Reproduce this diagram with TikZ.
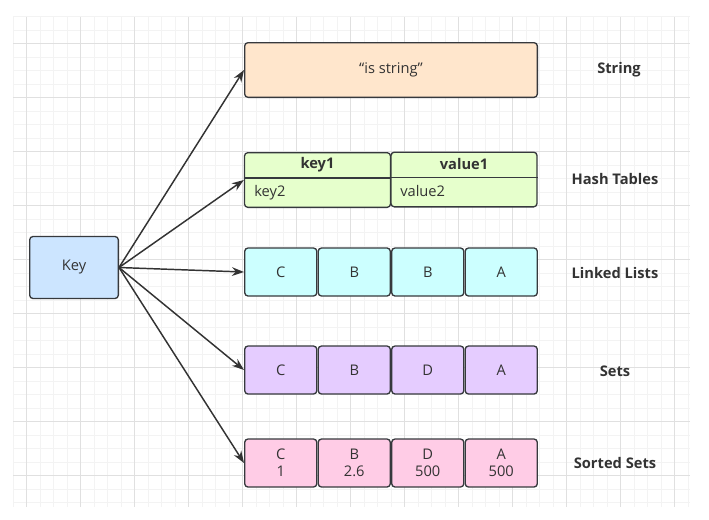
\documentclass[tikz,border=0pt]{standalone}
\usepackage{fontspec}
\setmainfont{Open Sans}
\usetikzlibrary{arrows.meta,calc,positioning}
\definecolor{edge}{HTML}{36393D}
\definecolor{txt}{HTML}{333333}
\definecolor{keyc}{HTML}{CCE5FF}
\definecolor{strc}{HTML}{FFE6CC}
\definecolor{hashc}{HTML}{E6FFCC}
\definecolor{listc}{HTML}{CCFFFF}
\definecolor{setc}{HTML}{E5CCFF}
\definecolor{zsetc}{HTML}{FFCCE6}
\definecolor{gridminor}{HTML}{F3F3F3}
\definecolor{gridmajor}{HTML}{E0E0E0}
\newcommand{\boxfont}{\fontsize{11}{12.75}\selectfont}

\begin{document}
\begin{tikzpicture}[x=0.75pt,y=-0.75pt,
  box/.style={draw=edge,line width=1pt,rounded corners=2.5pt,text=txt,font=\boxfont,inner sep=0pt},
  cell/.style={box,minimum width=54.1pt,minimum height=36pt,align=center},
  word/.style={text=txt,font=\boxfont,inner sep=0pt},
  tag/.style={word,font=\boxfont\bfseries},
  link/.style={draw=txt,line width=1.1pt,-{Stealth[length=9pt,width=6.5pt]}}]
\useasboundingbox (0,0) rectangle (709,519);
% background grid
\foreach \k in {0,...,50}
  \draw[gridminor,line width=0.75pt] (13.2+13.5*\k,16.5) -- (13.2+13.5*\k,507);
\foreach \k in {0,...,36}
  \draw[gridminor,line width=0.75pt] (13,16.5+13.5*\k) -- (690,16.5+13.5*\k);
\foreach \k in {0,...,12}
  \draw[gridmajor,line width=0.75pt] (26.7+54*\k,16.5) -- (26.7+54*\k,507);
\foreach \k in {0,...,8}
  \draw[gridmajor,line width=0.75pt] (13,43.5+54*\k) -- (690,43.5+54*\k);

% key
\node[box,fill=keyc,minimum width=66.5pt,minimum height=46.5pt] (key) at (74,267.5) {Key};

% string
\node[box,fill=strc,minimum width=219.5pt,minimum height=41pt] (str) at (391,70) {“is string”};

% hash table
\node[box,fill=hashc,minimum width=109.5pt,minimum height=41pt] (hk) at (317.5,180) {};
\node[box,fill=hashc,minimum width=109.5pt,minimum height=41pt] (hv) at (464,179.5) {};
\draw[edge,line width=1pt] ($(hk.west)+(0,-2)$) -- ($(hk.east)+(0,-2)$);
\draw[edge,line width=1pt] ($(hv.west)+(0,-2)$) -- ($(hv.east)+(0,-2)$);
\node[tag] (hk1) at (317.5,165) {key1};
\node[tag] (hv1) at (464,164) {value1};
\node[word,anchor=west] (hk2) at (254,193) {key2};
\node[word,anchor=west] (hv2) at (400,191) {value2};

% linked list
\foreach \t [count=\i] in {C,B,B,A}
  \node[cell,fill=listc] (ll\i) at (207.25+73.5*\i,272) {\t};

% set
\foreach \t [count=\i] in {C,B,D,A}
  \node[cell,fill=setc] (st\i) at (207.25+73.5*\i,370) {\t};

% sorted set
\foreach \t/\v [count=\i] in {C/1,B/2.6,D/500,A/500}
  \node[cell,fill=zsetc] (zs\i) at (207.25+73.5*\i,463) {\t\\\v};

% arrows
\draw[link] (key.east) -- (str.west);
\draw[link] (key.east) -- (hk.west);
\draw[link] (key.east) -- (ll1.west);
\draw[link] (key.east) -- (st1.west);
\draw[link] (key.east) -- (zs1.west);

% labels
\node[tag] (lstr) at (619,70) {String};
\node[tag] (lhash) at (615,179) {Hash Tables};
\node[tag] (llist) at (615,272.5) {Linked Lists};
\node[tag] (lset) at (615,371) {Sets};
\node[tag] (lzset) at (615,463) {Sorted Sets};
\end{tikzpicture}
\end{document}
